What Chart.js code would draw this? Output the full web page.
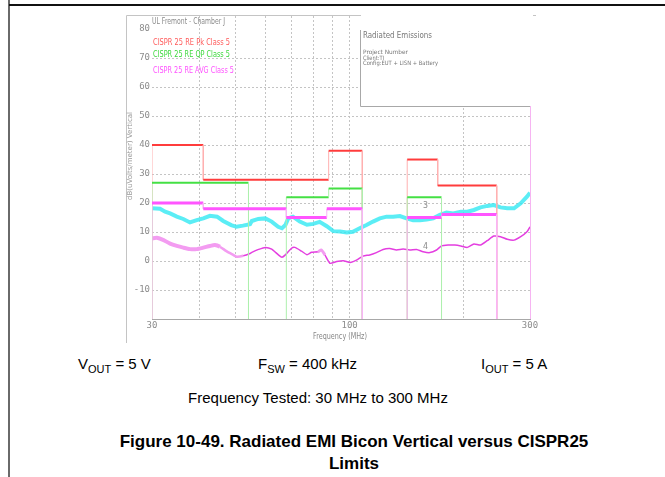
<!DOCTYPE html>
<html>
<head>
<meta charset="utf-8">
<script src="https://cdn.jsdelivr.net/npm/chart.js@4.4.1/dist/chart.umd.min.js"></script>
<style>
html, body { margin: 0; padding: 0; background: #fff; }
#page { position: relative; width: 665px; height: 477px; overflow: hidden; font-family: 'Liberation Sans', Arial, sans-serif; color: #000; }
#edgeL { position: absolute; left: 8px; top: 0; width: 2px; height: 477px; background: #6a6a6a; }
#edgeT { position: absolute; left: 9px; top: 4px; width: 656px; height: 2px; background: #111; }
#plot { position: absolute; left: 0; top: 0; }
.cap { position: absolute; font-size: 15px; line-height: 15px; white-space: nowrap; }
.cap sub { font-size: 11px; vertical-align: -4px; line-height: 0; }
.fig { position: absolute; font-size: 17px; line-height: 17px; font-weight: bold; white-space: nowrap; transform: translateX(-50%); }
</style>
</head>
<body>
<div id="page">
  <div id="edgeL"></div>
  <div id="edgeT"></div>
  <canvas id="plot" width="665" height="350"></canvas>
  <div class="cap" style="left:78px;top:356px">V<sub>OUT</sub> = 5 V</div>
  <div class="cap" style="left:258px;top:356px">F<sub>SW</sub> = 400 kHz</div>
  <div class="cap" style="left:481px;top:356px">I<sub>OUT</sub> = 5 A</div>
  <div class="cap" style="left:318px;top:390px;transform:translateX(-50%)">Frequency Tested: 30 MHz to 300 MHz</div>
  <div class="fig" style="left:354px;top:433px">Figure 10-49. Radiated EMI Bicon Vertical versus CISPR25</div>
  <div class="fig" style="left:354px;top:455px">Limits</div>
</div>
<script>
// axis
var yMin = -20, yMax = 84.5;
var yTicks = [-20, -10, 0, 10, 20, 30, 40, 50, 60, 70, 80];
var xGrid = [30, 40, 50, 60, 70, 80, 90, 100, 200, 300];
var xLabels = [30, 100, 300];

// CISPR 25 class 5 limits (MHz, dBuV/m)
var pkStart = [30, 41, 88, 142, 171];
var pkEnd   = [41, 88, 108, 171, 245];
var pkLevel = [40, 28, 38, 35, 26];

var qpStart = [30, 68, 88, 142];
var qpEnd   = [54, 88, 108, 175];
var qpLevel = [27, 22, 25, 22];

var avStart = [30, 41, 68, 87, 142, 175];
var avEnd   = [41, 68, 87, 108, 175, 245];
var avLevel = [20, 18, 15, 18, 15, 16];

// measured peak (cyan)
var peakFreq = [30, 31.5, 32.5, 33.5, 34.9, 36.3, 37.8, 39.4, 41.0, 42.7, 44.6, 46.3, 48.6, 50.2, 52.2,
  54.5, 55.1, 57.3, 59.8, 62.2, 64.7, 66.2, 67.6, 68.8, 70.8, 73.8, 77.1, 80.1, 83.3, 87.0,
  90.5, 94.3, 98.3, 102, 106.3, 110.8, 115.3, 120.2, 125.2, 130.3, 135.8, 141.4, 147.2, 153.4, 159.8,
  166.4, 173.2, 180.4, 188, 196.9, 204.8, 213.2, 221.9, 231.2, 240.7, 250.7, 261.2, 272.2, 283.5, 294.5, 300];
var peakLevel = [18.2, 18.0, 17.0, 16.4, 15.3, 14.5, 13.3, 14.1, 14.7, 15.6, 15.3, 13.8, 12.4, 11.8, 12.2,
  12.7, 13.8, 14.5, 14.7, 13.6, 11.8, 11.3, 12.4, 14.7, 15.3, 13.6, 12.5, 12.8, 13.5, 12.0,
  10.3, 10.2, 9.8, 10.1, 11.3, 12.4, 13.6, 14.7, 15.3, 15.3, 15.5, 14.7, 14.1, 14.1, 14.3,
  14.7, 15.9, 16.7, 16.4, 17.0, 17.0, 17.6, 18.5, 19.0, 19.3, 18.5, 18.2, 18.2, 19.9, 22.2, 23.5];

// measured average (magenta)
var avgFreq = [30, 30.9, 32.2, 33.5, 34.9, 36.3, 37.8, 39.4, 41.0, 42.7, 44.0, 45.4, 47.2, 49.2, 50.2,
  52.3, 54.5, 55.1, 57.4, 59.8, 62.2, 64.8, 66.2, 67.6, 70.2, 71.6, 74.6, 77.1, 79.3, 82.4,
  84.2, 86.0, 88.7, 92.4, 96.2, 100.3, 104.2, 108.5, 113.0, 117.7, 122.6, 127.7, 133.0, 138.5, 144.3,
  150.3, 156.5, 163.0, 169.8, 175.0, 182.2, 189.9, 196.9, 204.8, 213.2, 221.9, 231.2, 240.7, 250.7, 261.2,
  272.2, 283.5, 294.5, 300];
var avgLevel = [7.8, 8.0, 7.2, 6.0, 5.2, 4.6, 4.1, 4.1, 4.6, 5.2, 5.5, 4.9, 3.4, 2.1, 1.5,
  1.8, 2.6, 3.0, 4.0, 4.7, 4.1, 2.1, 1.3, 2.1, 4.4, 4.7, 3.4, 2.2, 3.0, 3.2,
  3.8, 2.1, -0.8, -0.2, 0.1, -0.5, 0.3, 1.7, 2.1, 2.9, 4.0, 4.3, 3.8, 4.1, 3.8,
  4.0, 3.2, 2.9, 3.8, 5.2, 5.5, 5.5, 5.2, 4.7, 5.9, 5.5, 7.0, 8.6, 8.4, 7.5,
  7.2, 8.4, 10.1, 11.8];

// step outline of a limit, dropping to the floor where bands are not contiguous
function limitPath(start, end, level) {
  var pts = [];
  for (var i = 0; i < start.length; i++) {
    if (i === 0 || end[i - 1] !== start[i]) {
      if (i > 0) {
        pts.push({x: end[i - 1], y: yMin});
        pts.push({x: end[i - 1], y: null});
      }
      pts.push({x: start[i], y: yMin});
    }
    pts.push({x: start[i], y: level[i]});
    pts.push({x: end[i], y: level[i]});
  }
  pts.push({x: end[end.length - 1], y: yMin});
  return pts;
}

function limitSet(label, pts, main, light, w, order) {
  return {
    label: label,
    data: pts,
    borderColor: main,
    borderWidth: w,
    pointRadius: 0,
    tension: 0,
    spanGaps: false,
    order: order,
    segment: {
      borderColor: function(s) { return s.p0.parsed.x === s.p1.parsed.x ? light : main; },
      borderWidth: function(s) { return s.p0.parsed.x === s.p1.parsed.x ? 1 : w; }
    }
  };
}

function xy(xs, ys) {
  return xs.map(function(v, i) { return {x: v, y: ys[i]}; });
}

function fitText(c, s, x, y, w, size, color) {
  c.save();
  c.font = size + 'px "DejaVu Sans"';
  c.fillStyle = color;
  c.textBaseline = 'alphabetic';
  var k = w / c.measureText(s).width;
  c.translate(x, y);
  c.scale(k, 1);
  c.fillText(s, 0, 0);
  c.restore();
}

var overlay = {
  id: 'overlay',
  beforeDraw: function(chart) {
    var c = chart.ctx;
    c.save();
    c.strokeStyle = '#c4c4c4';
    c.lineWidth = 1;
    c.beginPath();
    c.moveTo(126.5, 343);
    c.lineTo(126.5, 15.5);
    c.lineTo(536, 15.5);
    c.stroke();
    c.restore();
  },
  beforeDatasetsDraw: function(chart) {
    var c = chart.ctx, a = chart.chartArea;
    c.save();
    c.fillStyle = '#fff';
    c.fillRect(361, a.top - 1, a.right - 361 + 3, 106 - a.top + 1);
    c.strokeStyle = '#a8a8a8';
    c.lineWidth = 1;
    c.beginPath();
    c.moveTo(360.5, 30);
    c.lineTo(360.5, 106.5);
    c.lineTo(a.right, 106.5);
    c.stroke();
    c.restore();
  },
  afterDraw: function(chart) {
    var c = chart.ctx;
    fitText(c, 'UL Fremont - Chamber J', 152, 24, 73, 8, '#8a8a8a');
    fitText(c, 'CISPR 25 RE Pk Class 5', 153, 45, 77, 9, '#ff5a5a');
    fitText(c, 'CISPR 25 RE QP Class 5', 153, 57, 77, 9, '#3cd83c');
    fitText(c, 'CISPR 25 RE AVG Class 5', 153, 73, 81, 9, '#ff50ff');
    fitText(c, 'Radiated Emissions', 363, 38, 69, 8, '#777');
    fitText(c, 'Project Number', 363, 54, 45, 6, '#777');
    fitText(c, 'Client:TI', 363, 59.5, 21, 6, '#777');
    fitText(c, 'Config:EUT + LISN + Battery', 363, 64.5, 75, 6, '#777');
    fitText(c, 'Frequency (MHz)', 313, 339, 54, 8, '#888');
    fitText(c, '3', 423, 208, 5, 9, '#8a8a8a');
    fitText(c, '4', 423, 249, 5, 9, '#8a8a8a');
    c.save();
    c.translate(132, 200);
    c.rotate(-Math.PI / 2);
    fitText(c, 'dB(uVolts/meter) Vertical', 0, 0, 88, 7, '#999');
    c.restore();
  }
};

new Chart(document.getElementById('plot'), {
  type: 'line',
  data: {
    datasets: [
      {
        label: 'Peak',
        data: xy(peakFreq, peakLevel),
        borderColor: 'rgba(50,232,242,0.8)',
        borderWidth: 4,
        pointRadius: 0,
        tension: 0,
        order: 5
      },
      {
        label: 'Average',
        data: xy(avgFreq, avgLevel),
        borderColor: '#e43ee0',
        borderWidth: 1.5,
        pointRadius: 0,
        tension: 0.2,
        order: 4,
        segment: {
          borderWidth: function(s) {
            var f = s.p0.parsed.x;
            if (f < 45) return 4;
            if (f < 52) return 2.5;
            if (f > 80 && f < 86) return 3;
            return 1.5;
          },
          borderColor: function(s) {
            var f = s.p0.parsed.x;
            return (f < 52 || (f > 80 && f < 86)) ? '#f39cf1' : '#e43ee0';
          }
        }
      },
      limitSet('CISPR 25 RE Pk Class 5', limitPath(pkStart, pkEnd, pkLevel), '#ff3c3c', '#ffb0b0', 2, 3),
      limitSet('CISPR 25 RE QP Class 5', limitPath(qpStart, qpEnd, qpLevel), '#44e044', '#aef0ae', 2, 2),
      limitSet('CISPR 25 RE AVG Class 5', limitPath(avStart, avEnd, avLevel), '#ff55ff', '#f8b4f6', 3, 1)
    ]
  },
  options: {
    responsive: false,
    animation: false,
    events: [],
    layout: { padding: { top: 16, right: 135, bottom: 0, left: 0 } },
    plugins: {
      legend: { display: false },
      tooltip: { enabled: false }
    },
    scales: {
      x: {
        type: 'logarithmic',
        min: 30,
        max: 300,
        afterBuildTicks: function(s) { s.ticks = xGrid.map(function(v) { return {value: v}; }); },
        afterFit: function(s) { s.height = 31; },
        ticks: {
          autoSkip: false,
          maxRotation: 0,
          padding: 1,
          color: '#8c8c8c',
          font: { family: 'DejaVu Sans Mono', size: 9 },
          callback: function(v) { return xLabels.indexOf(v) >= 0 ? String(v) : ''; }
        },
        grid: {
          drawTicks: false,
          lineWidth: 1,
          color: function(c) {
            if (!c.tick) return '#c4c4c4';
            if (c.tick.value === 30) return 'rgba(0,0,0,0)';
            if (c.tick.value === 300) return '#f6b4f2';
            return '#c4c4c4';
          }
        },
        border: {
          display: true,
          color: '#a8a8a8',
          width: 1,
          dash: function(c) { return (c.tick && c.tick.value === 300) ? [] : [2, 2]; }
        }
      },
      y: {
        min: yMin,
        max: yMax,
        afterBuildTicks: function(s) { s.ticks = yTicks.map(function(v) { return {value: v}; }); },
        afterFit: function(s) { s.width = 152; },
        ticks: {
          padding: 2,
          color: '#8c8c8c',
          font: { family: 'DejaVu Sans Mono', size: 9 },
          callback: function(v) { return v === yMin ? '' : String(v); }
        },
        grid: {
          drawTicks: false,
          color: function(c) {
            return (c.tick && c.tick.value > yMin && c.tick.value < 80) ? '#c4c4c4' : 'rgba(0,0,0,0)';
          }
        },
        border: { display: false, dash: [2, 2] }
      }
    }
  },
  plugins: [overlay]
});
</script>
</body>
</html>
